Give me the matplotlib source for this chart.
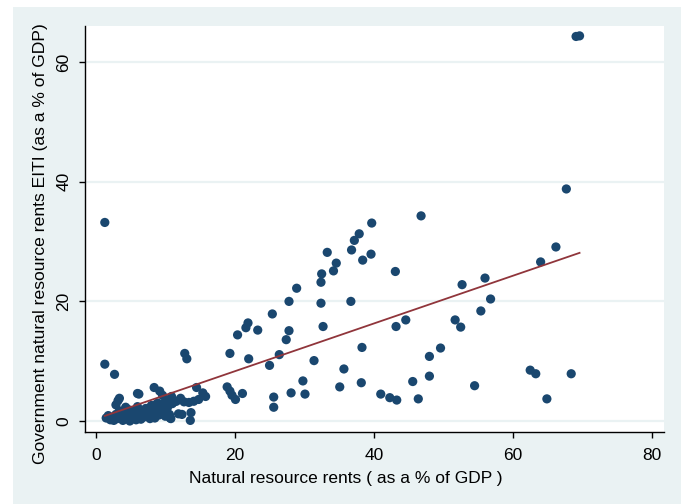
import numpy as np
import matplotlib
matplotlib.use("Agg")
import matplotlib.pyplot as plt
from matplotlib.patches import Rectangle

plt.rcParams["font.family"] = ["Liberation Sans", "DejaVu Sans"]

# Natural resource rents (% of GDP) vs government natural resource rents (EITI, % of GDP)
rents = [
    69.1, 69.6, 67.7, 1.3, 46.8, 39.7, 37.9, 37.2, 36.8, 33.3, 39.6, 38.4, 34.6, 34.2,
    43.1, 32.5, 32.4, 66.2, 64.0, 56.0, 52.7, 56.8, 55.4, 51.7, 52.5, 44.6, 43.2, 28.9,
    27.8, 32.4, 36.7, 25.4, 32.7, 21.9, 21.6, 23.3, 20.4, 27.8, 27.4, 19.3, 26.4, 22.0,
    31.4, 38.3, 49.6, 48.0, 48.0, 45.6, 54.5, 62.5, 63.3, 68.4, 64.9, 46.4, 43.3, 42.3,
    41.0, 38.2, 35.1, 35.7, 25.0, 29.8, 30.1, 28.1, 25.6, 25.6, 21.1, 18.9, 19.3, 19.6,
    20.1, 12.8, 13.1, 1.3, 2.7,
    14.5, 15.4, 15.8, 14.8, 14.1, 13.4, 12.7, 13.7, 12.4, 11.9, 13.6, 10.7, 10.6, 11.6,
    10.9, 10.2, 8.4, 9.2, 9.6, 6.0, 6.2, 3.2, 2.9, 3.4,
    1.5, 1.8, 2.1, 2.4, 2.6, 2.9, 3.1, 3.4, 3.6, 3.9, 4.1, 4.3, 4.4, 4.7, 4.9, 5.1,
    5.3, 5.6, 5.8, 6.0, 6.3, 6.5, 6.7, 7.0, 7.2, 7.5, 7.8, 8.0, 8.2, 8.5, 8.7, 8.9,
    9.1, 9.3, 9.5, 9.8, 10.0, 10.3, 11.0, 8.6, 11.3, 12.2, 10.8,
]
gov_rents = [
    64.3, 64.4, 38.8, 33.2, 34.3, 33.1, 31.3, 30.2, 28.6, 28.2, 27.9, 26.9, 26.4, 25.1,
    25.0, 24.6, 23.2, 29.1, 26.6, 23.9, 22.8, 20.4, 18.4, 16.9, 15.7, 16.9, 15.8, 22.2,
    20.0, 19.7, 20.0, 17.9, 15.8, 16.4, 15.6, 15.2, 14.4, 15.1, 13.6, 11.3, 11.1, 10.4,
    10.1, 12.3, 12.2, 10.8, 7.5, 6.6, 5.9, 8.5, 7.9, 7.9, 3.7, 3.7, 3.5, 3.9,
    4.5, 6.4, 5.7, 8.7, 9.3, 6.7, 4.5, 4.7, 4.0, 2.3, 4.6, 5.7, 5.0, 4.3,
    3.6, 11.3, 10.4, 9.5, 7.8,
    5.6, 4.7, 4.1, 3.6, 3.3, 3.1, 3.2, 1.4, 1.1, 1.2, 0.1, 0.5, 1.1, 3.3,
    4.1, 3.4, 5.6, 5.0, 4.3, 4.6, 4.5, 3.4, 2.7, 3.8,
    0.5, 0.9, 0.2, 0.6, 0.1, 1.1, 0.4, 1.7, 0.8, 0.1, 1.4, 2.3, 0.5, 1.9, 0.0, 1.0,
    0.5, 1.7, 0.2, 2.4, 1.0, 0.3, 1.6, 0.7, 2.1, 1.2, 0.4, 2.6, 1.4, 0.5, 2.2, 3.0,
    1.0, 2.6, 1.7, 3.0, 0.8, 2.2, 2.9, 2.7, 3.2, 3.8, 0.4,
]

x_ticks = [0, 20, 40, 60, 80]
y_ticks = [0, 20, 40, 60]
x_label = "Natural resource rents ( as a % of GDP )"
y_label = "Government natural resource rents EITI (as a % of GDP)"

NAVY = "#1A476F"
MAROON = "#90353B"
PANEL = "#EAF2F3"

x = np.array(rents)
y = np.array(gov_rents)
slope, intercept = np.polyfit(x, y, 1)
fit_x = np.array([x.min(), x.max()])
fit_y = intercept + slope * fit_x

fig = plt.figure(figsize=(6.81, 5.04), dpi=100)
fig.patch.set_facecolor("white")

# graph-region background behind everything
bg = fig.add_axes([13 / 681, 0, 1 - 13 / 681, 1 - 7 / 504], zorder=-5)
bg.set_axis_off()
bg.add_patch(Rectangle((0, 0), 1, 1, transform=bg.transAxes,
                       facecolor=PANEL, edgecolor="none"))

ax = fig.add_axes([85 / 681, 1 - 432 / 504, (664 - 85) / 681, (432 - 26) / 504],
                  zorder=1)
ax.set_facecolor("white")
ax.set_xlim(-1.55, 81.75)
ax.set_ylim(-1.84, 66.05)

for t in y_ticks:
    ax.axhline(t, color=PANEL, lw=1.6, zorder=1)

ax.scatter(x, y, s=44, color=NAVY, edgecolors="none", zorder=3)
ax.plot(fit_x, fit_y, color=MAROON, lw=1.3, zorder=4)

for side in ("top", "right"):
    ax.spines[side].set_visible(False)
for side in ("left", "bottom"):
    ax.spines[side].set_linewidth(1.0)
    ax.spines[side].set_color("black")

ax.set_xticks(x_ticks)
ax.set_yticks(y_ticks)
ax.tick_params(axis="both", direction="out", length=4.3, width=1.0,
               labelsize=12.5, colors="black")
ax.tick_params(axis="x", pad=7)
ax.tick_params(axis="y", pad=5.5)
for lab in ax.get_yticklabels():
    lab.set_rotation(90)
    lab.set_va("center")

fig.text(346 / 681, 1 - 479 / 504, x_label, ha="center", va="center", fontsize=12.5)
fig.text(41 / 681, 1 - 244 / 504, y_label, ha="center", va="center",
         rotation=90, fontsize=12.6)

fig.savefig("out.png", dpi=100)
